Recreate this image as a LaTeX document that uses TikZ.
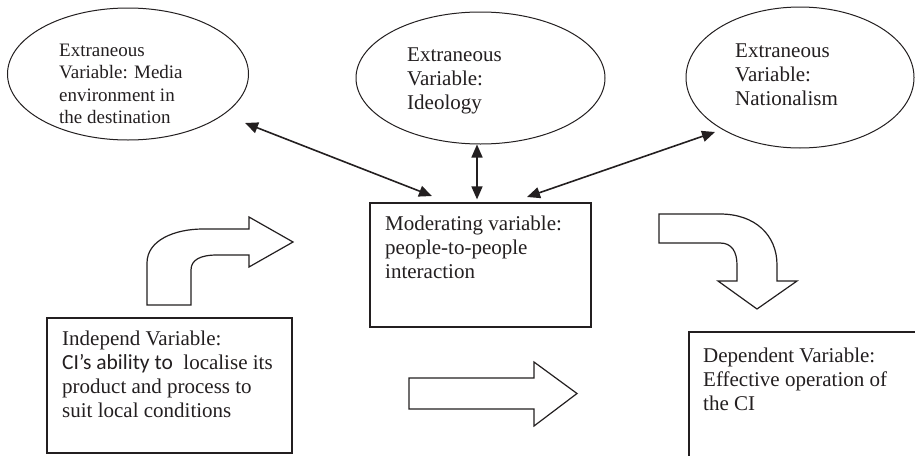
\documentclass[tikz,border=0pt]{standalone}
\usepackage{fontspec}
\setmainfont{Liberation Serif}
\newfontfamily\calfont{Carlito}
\usetikzlibrary{shapes.geometric,arrows.meta}
\definecolor{ink}{HTML}{231F20}
\newcommand{\mlines}[1]{\begin{tabular}[t]{@{}l@{}}#1\end{tabular}}
\begin{document}
\begin{tikzpicture}[x=1pt,y=-1pt,
  oval/.style={draw=ink,line width=1pt,ellipse,inner sep=0pt},
  box/.style={draw=ink,line width=1.2pt,rectangle,inner sep=0pt},
  txt/.style={anchor=base west,inner sep=0pt,text=ink},
  big/.style={font=\fontsize{21}{24.3}\selectfont},
  small/.style={font=\fontsize{19}{22.5}\selectfont},
  dbl/.style={{Triangle[length=13pt,width=11pt]}-{Triangle[length=13pt,width=11pt]},line width=1.6pt,draw=ink},
  blockarrow/.style={draw=ink,line width=1.2pt,fill=white,line join=miter}]
\useasboundingbox (0,0) rectangle (915,455);
\clip (0,0) rectangle (915,455);
\fill[white] (0,0) rectangle (915,455);

% ellipses
\node[oval,minimum width=241pt,minimum height=132pt] (e1) at (128,74) {};
\node[oval,minimum width=249pt,minimum height=132pt] (e2) at (480.5,78) {};
\node[oval,minimum width=228pt,minimum height=141pt] (e3) at (800,77.5) {};

% boxes
\node[box,minimum width=221pt,minimum height=124pt] (m) at (480.5,265) {};
\node[box,minimum width=245pt,minimum height=135pt] (ind) at (169.5,385.5) {};
\node[box,minimum width=232pt,minimum height=129pt] (dep) at (805,396.5) {};

% texts
\node[txt,small] (t1) at (59,56) {\mlines{Extraneous\\Variable: Media\\environment in\\the destination}};
\node[txt,big] (t2) at (407,61) {\mlines{Extraneous\\Variable:\\Ideology}};
\node[txt,big] (t3) at (735,57) {\mlines{Extraneous\\Variable:\\Nationalism}};
\node[txt,big] (tm) at (385,230) {\mlines{Moderating variable:\\people-to-people\\interaction}};
\node[txt,big] (ti) at (62,345) {\mlines{Independ Variable:\\{\calfont\fontsize{21.5}{24.3}\selectfont CI’s ability to}\ \ localise its\\product and process to\\suit local conditions}};
\node[txt,big] (td) at (703,362) {\mlines{Dependent Variable:\\Effective operation of\\the CI}};

% double arrows
\coordinate (a1s) at (245,123);
\coordinate (a1e) at (432,196);
\draw[dbl] (a1s) -- (a1e);
\draw[dbl] ([xshift=-3.5pt]e2.south) -- ([xshift=-3.5pt,yshift=3pt]m.north);
\coordinate (a3s) at (527,197);
\coordinate (a3e) at (715,132);
\draw[dbl] (a3s) -- (a3e);

% block arrows
\draw[blockarrow] (147,305) -- (147,263) .. controls (147,240) and (175,229) .. (203,229)
  -- (249,229) -- (249,217) -- (293,242) -- (249,267) -- (249,255) -- (217,255)
  .. controls (200,255) and (191,260) .. (191,270) -- (191,305) -- cycle;
\draw[blockarrow] (409,378) -- (534,378) -- (534,362) -- (577,393.5) -- (534,426) -- (534,409) -- (409,409) -- cycle;
\draw[blockarrow] (659,214) -- (720,214) .. controls (755,214) and (777,235) .. (777,265)
  -- (777,281) -- (797,281) -- (757,309) -- (718,281) -- (737,281) -- (737,265)
  .. controls (737,252) and (732,243) .. (720,243) -- (659,243) -- cycle;
\end{tikzpicture}
\end{document}
